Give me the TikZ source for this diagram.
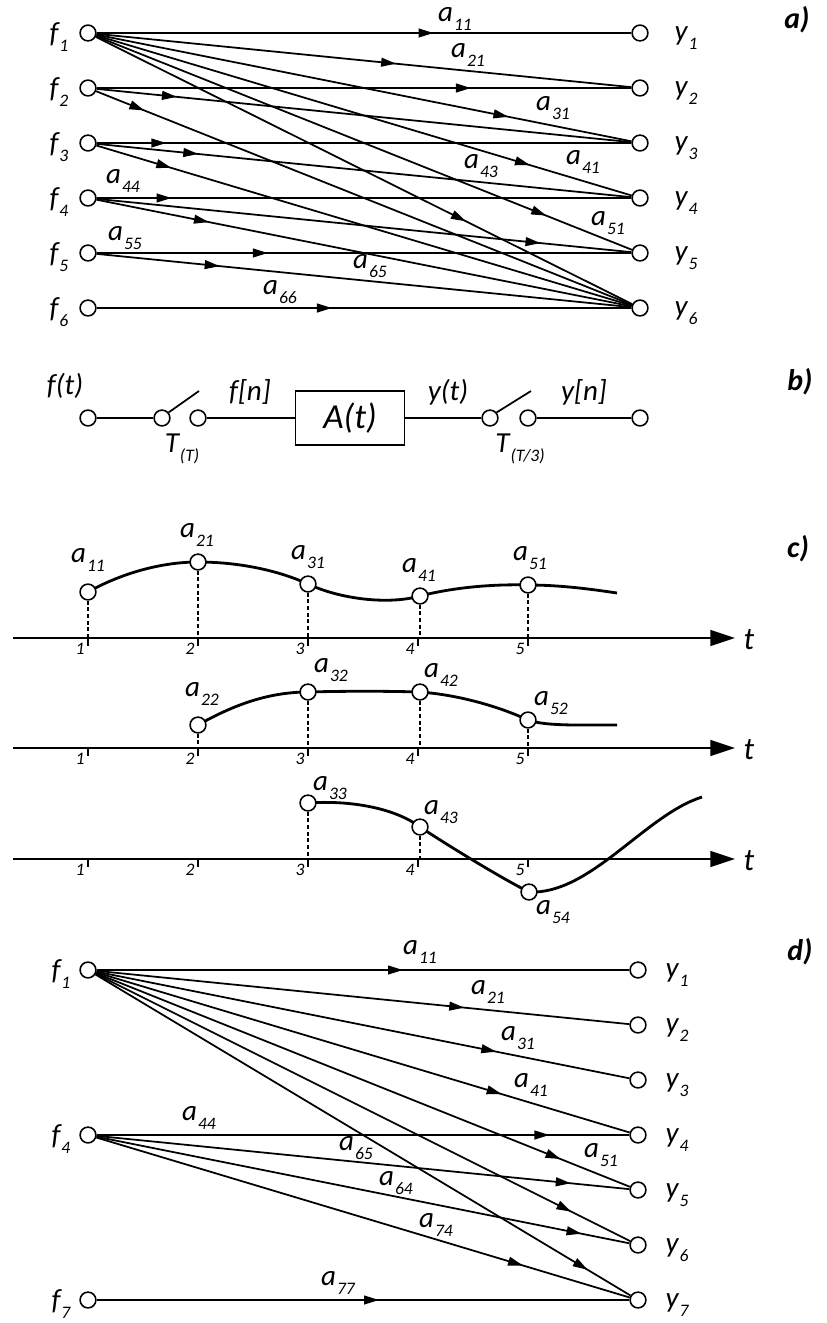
\documentclass[tikz,border=0pt]{standalone}
\usepackage{fontspec}
\setmainfont{Carlito}
\usetikzlibrary{arrows.meta, positioning, decorations.markings, backgrounds}

\newcommand{\ix}[2]{#1\kern0.6pt\raisebox{-5pt}{\fontsize{10}{10}\selectfont #2}}

\begin{document}
\begin{tikzpicture}[
  x=0.02cm, y=-0.02cm,
  >={Triangle[length=8.5pt, width=5pt]},
  port/.style={circle, draw, fill=white, line width=0.9pt, minimum size=9pt, inner sep=0pt},
  wire/.style={line width=1pt},
  flow/.style={wire, decoration={markings, mark=at position #1 with {\arrow{>}}}, postaction={decorate}},
  io/.style={font=\itshape\fontsize{16.5}{18}\selectfont, inner sep=0pt},
  coef/.style={io},
  ttl/.style={font=\bfseries\itshape\fontsize{17}{19}\selectfont, inner sep=0pt},
  blk/.style={draw, line width=0.9pt, minimum width=2.18cm, minimum height=1.08cm,
              font=\itshape\fontsize{20}{22}\selectfont},
  axis/.style={line width=1.1pt, -{Triangle[length=14pt, width=9pt]}},
  tick/.style={line width=0.8pt},
  tnum/.style={font=\itshape\fontsize{10}{10}\selectfont, anchor=north east, inner sep=0pt},
  drop/.style={dash pattern=on 2.2pt off 1.6pt, line width=0.8pt},
  curve/.style={line width=1.6pt},
  tlab/.style={font=\itshape\fontsize{18}{20}\selectfont, inner sep=0pt},
]
\useasboundingbox (0,0) rectangle (827,1323);

% --- a) six inputs, six outputs ---
\node[ttl] (ta) at (797,20) {a)};
\node[port] (fa1) at (88,33) {};
\node[port] (fa2) at (88,88) {};
\node[port] (fa3) at (88,143) {};
\node[port] (fa4) at (88,198) {};
\node[port] (fa5) at (88,253) {};
\node[port] (fa6) at (88,308) {};
\node[port] (ya1) at (640,33) {};
\node[port] (ya2) at (640,88) {};
\node[port] (ya3) at (640,143) {};
\node[port] (ya4) at (640,198) {};
\node[port] (ya5) at (640,253) {};
\node[port] (ya6) at (640,308) {};

\node[io] (lfa1) at (59,37) {\ix{f}{1}};
\node[io] (lfa2) at (59,92) {\ix{f}{2}};
\node[io] (lfa3) at (59,147) {\ix{f}{3}};
\node[io] (lfa4) at (59,202) {\ix{f}{4}};
\node[io] (lfa5) at (59,257) {\ix{f}{5}};
\node[io] (lfa6) at (59,312) {\ix{f}{6}};
\node[io] (lya1) at (686,38) {\ix{y}{1}};
\node[io] (lya2) at (686,93) {\ix{y}{2}};
\node[io] (lya3) at (686,148) {\ix{y}{3}};
\node[io] (lya4) at (686,203) {\ix{y}{4}};
\node[io] (lya5) at (686,258) {\ix{y}{5}};
\node[io] (lya6) at (686,313) {\ix{y}{6}};

\draw[flow=0.63] (fa1) -- (ya1);
\draw[flow=0.56] (fa1) -- (ya2);
\draw[flow=0.77] (fa1) -- (ya3);
\draw[flow=0.81] (fa1) -- (ya4);
\draw[flow=0.84] (fa1) -- (ya5);
\draw[flow=0.69] (fa1) -- (ya6);
\draw[flow=0.70] (fa2) -- (ya2);
\draw[flow=0.15] (fa2) -- (ya3);
\draw[flow=0.09] (fa2) -- (ya6);
\draw[flow=0.13] (fa3) -- (ya3);
\draw[flow=0.19] (fa3) -- (ya4);
\draw[flow=0.14] (fa3) -- (ya6);
\draw[flow=0.14] (fa4) -- (ya4);
\draw[flow=0.83] (fa4) -- (ya5);
\draw[flow=0.21] (fa4) -- (ya6);
\draw[flow=0.32] (fa5) -- (ya5);
\draw[flow=0.23] (fa5) -- (ya6);
\draw[flow=0.44] (fa6) -- (ya6);

\node[coef] (ka11) at (455,19) {\ix{a}{11}};
\node[coef] (ka21) at (468,55) {\ix{a}{21}};
\node[coef] (ka31) at (553,108) {\ix{a}{31}};
\node[coef] (ka41) at (583,162) {\ix{a}{41}};
\node[coef] (ka43) at (481,166) {\ix{a}{43}};
\node[coef] (ka51) at (608,223) {\ix{a}{51}};
\node[coef] (ka44) at (123,181) {\ix{a}{44}};
\node[coef] (ka55) at (125,238) {\ix{a}{55}};
\node[coef] (ka65) at (370,266) {\ix{a}{65}};
\node[coef] (ka66) at (280,292) {\ix{a}{66}};

% --- b) sampling chain ---
\node[ttl] (tb) at (800,382) {b)};
\node[port] (bin) at (88,418) {};
\node[port] (sw1a) at (162,418) {};
\node[port] (sw1b) at (198,418) {};
\node[blk] (sys) at (350,418) {A(t)};
\node[port] (sw2a) at (490,418) {};
\node[port] (sw2b) at (528,418) {};
\node[port] (bout) at (640,418) {};
\coordinate (bl1) at (199,391);
\coordinate (bl2) at (531,391);

\draw[wire] (bin) -- (sw1a);
\draw[wire] (sw1a.40) -- (bl1);
\draw[wire] (sw1b) -- (sys);
\draw[wire] (sys) -- (sw2a);
\draw[wire] (sw2a.40) -- (bl2);
\draw[wire] (sw2b) -- (bout);

\node[io] (lft) at (65,386) {f(t)};
\node[io] (lfn) at (250,392) {f[n]};
\node[io] (lyt) at (448,392) {y(t)};
\node[io] (lyn) at (584,392) {y[n]};
\node[io] (lt1) at (182,449) {\ix{T}{(T)}};
\node[io] (lt2) at (520,449) {\ix{T}{(T/3)}};

% --- c) three sampled responses ---
\node[ttl] (tc) at (798,549) {c)};
\coordinate (ax1) at (13,638);
\coordinate (ax1e) at (735,638);
\coordinate (ax2) at (13,748);
\coordinate (ax2e) at (735,748);
\coordinate (ax3) at (13,859);
\coordinate (ax3e) at (735,859);
\draw[axis] (ax1) -- (ax1e);
\draw[axis] (ax2) -- (ax2e);
\draw[axis] (ax3) -- (ax3e);
\node[tlab] (tt1) at (749,640) {t};
\node[tlab] (tt2) at (749,750) {t};
\node[tlab] (tt3) at (749,861) {t};

\draw[tick] (88,638) -- ++(0,8) (198,638) -- ++(0,8) (308,638) -- ++(0,8)
            (418,638) -- ++(0,8) (528,638) -- ++(0,8);
\draw[tick] (88,748) -- ++(0,8) (198,748) -- ++(0,8) (308,748) -- ++(0,8)
            (418,748) -- ++(0,8) (528,748) -- ++(0,8);
\draw[tick] (88,859) -- ++(0,8) (198,859) -- ++(0,8) (308,859) -- ++(0,8)
            (418,859) -- ++(0,8) (528,859) -- ++(0,8);
\node[tnum] (n11) at (85,643) {1}; \node[tnum] (n12) at (195,643) {2};
\node[tnum] (n13) at (305,643) {3}; \node[tnum] (n14) at (415,643) {4};
\node[tnum] (n15) at (525,643) {5};
\node[tnum] (n21) at (85,753) {1}; \node[tnum] (n22) at (195,753) {2};
\node[tnum] (n23) at (305,753) {3}; \node[tnum] (n24) at (415,753) {4};
\node[tnum] (n25) at (525,753) {5};
\node[tnum] (n31) at (85,864) {1}; \node[tnum] (n32) at (195,864) {2};
\node[tnum] (n33) at (305,864) {3}; \node[tnum] (n34) at (415,864) {4};
\node[tnum] (n35) at (525,864) {5};

\node[port] (c11) at (88,592) {};
\node[port] (c21) at (198,562) {};
\node[port] (c31) at (308,584) {};
\node[port] (c41) at (420,596) {};
\node[port] (c51) at (528,585) {};
\coordinate (e1) at (617,593);

\node[port] (c22) at (198,725) {};
\node[port] (c32) at (308,692) {};
\node[port] (c42) at (420,692) {};
\node[port] (c52) at (528,720) {};
\coordinate (e2) at (617,725);

\node[port] (c33) at (308,803) {};
\node[port] (c43) at (420,827) {};
\node[port] (c54) at (529,892) {};
\coordinate (e3) at (702,797);

\begin{scope}[on background layer]
\draw[curve] (c11.center) .. controls (120,574) and (160,562) .. (c21.center)
  .. controls (235,562) and (275,569) .. (c31.center)
  .. controls (340,599) and (388,605) .. (c41.center)
  .. controls (455,587) and (495,584) .. (c51.center)
  .. controls (560,585) and (590,589) .. (e1);
\draw[curve] (c22.center) .. controls (235,704) and (270,692) .. (c32.center)
  .. controls (345,691) and (385,691) .. (c42.center)
  .. controls (460,695) and (500,707) .. (c52.center)
  .. controls (545,726) and (575,725) .. (e2);
\draw[curve] (c33.center) .. controls (350,800) and (395,808) .. (c43.center)
  .. controls (455,850) and (505,880) .. (c54.center)
  .. controls (590,895) and (645,815) .. (e3);
\end{scope}

\draw[drop] (c11) -- (c11 |- ax1);
\draw[drop] (c21) -- (c21 |- ax1);
\draw[drop] (c31) -- (c31 |- ax1);
\draw[drop] (c41) -- (c41 |- ax1);
\draw[drop] (c51) -- (c51 |- ax1);
\draw[drop] (c22) -- (c22 |- ax2);
\draw[drop] (c32) -- (c32 |- ax2);
\draw[drop] (c42) -- (c42 |- ax2);
\draw[drop] (c52) -- (c52 |- ax2);
\draw[drop] (c33) -- (c33 |- ax3);
\draw[drop] (c43) -- (c43 |- ax3);

\node[coef] (kc11) at (88,560) {\ix{a}{11}};
\node[coef] (kc21) at (197,535) {\ix{a}{21}};
\node[coef] (kc31) at (308,557) {\ix{a}{31}};
\node[coef] (kc41) at (419,570) {\ix{a}{41}};
\node[coef] (kc51) at (530,558) {\ix{a}{51}};
\node[coef] (kc22) at (202,694) {\ix{a}{22}};
\node[coef] (kc32) at (331,670) {\ix{a}{32}};
\node[coef] (kc42) at (441,675) {\ix{a}{42}};
\node[coef] (kc52) at (551,703) {\ix{a}{52}};
\node[coef] (kc33) at (330,788) {\ix{a}{33}};
\node[coef] (kc43) at (441,812) {\ix{a}{43}};
\node[coef] (kc54) at (553,912) {\ix{a}{54}};

% --- d) reduced graph ---
\node[ttl] (td) at (800,952) {d)};
\node[port] (fd1) at (88,970) {};
\node[port] (fd4) at (88,1135) {};
\node[port] (fd7) at (88,1300) {};
\node[port] (yd1) at (638,970) {};
\node[port] (yd2) at (638,1025) {};
\node[port] (yd3) at (638,1080) {};
\node[port] (yd4) at (638,1135) {};
\node[port] (yd5) at (638,1190) {};
\node[port] (yd6) at (638,1245) {};
\node[port] (yd7) at (638,1300) {};

\node[io] (lfd1) at (61,974) {\ix{f}{1}};
\node[io] (lfd4) at (61,1139) {\ix{f}{4}};
\node[io] (lfd7) at (61,1304) {\ix{f}{7}};
\node[io] (lyd1) at (677,975) {\ix{y}{1}};
\node[io] (lyd2) at (677,1030) {\ix{y}{2}};
\node[io] (lyd3) at (677,1085) {\ix{y}{3}};
\node[io] (lyd4) at (677,1140) {\ix{y}{4}};
\node[io] (lyd5) at (677,1195) {\ix{y}{5}};
\node[io] (lyd6) at (677,1250) {\ix{y}{6}};
\node[io] (lyd7) at (677,1305) {\ix{y}{7}};

\draw[flow=0.575] (fd1) -- (yd1);
\draw[flow=0.69] (fd1) -- (yd2);
\draw[flow=0.75] (fd1) -- (yd3);
\draw[flow=0.76] (fd1) -- (yd4);
\draw[flow=0.87] (fd1) -- (yd5);
\draw[flow=0.89] (fd1) -- (yd6);
\draw[flow=0.92] (fd1) -- (yd7);
\draw[flow=0.85] (fd4) -- (yd4);
\draw[flow=0.89] (fd4) -- (yd5);
\draw[flow=0.91] (fd4) -- (yd6);
\draw[flow=0.80] (fd4) -- (yd7);
\draw[flow=0.53] (fd7) -- (yd7);

\node[coef] (kd11) at (420,952) {\ix{a}{11}};
\node[coef] (kd21) at (488,992) {\ix{a}{21}};
\node[coef] (kd31) at (518,1038) {\ix{a}{31}};
\node[coef] (kd41) at (531,1085) {\ix{a}{41}};
\node[coef] (kd51) at (601,1155) {\ix{a}{51}};
\node[coef] (kd44) at (199,1118) {\ix{a}{44}};
\node[coef] (kd65) at (356,1148) {\ix{a}{65}};
\node[coef] (kd64) at (396,1183) {\ix{a}{64}};
\node[coef] (kd74) at (436,1225) {\ix{a}{74}};
\node[coef] (kd77) at (338,1283) {\ix{a}{77}};

\end{tikzpicture}
\end{document}
